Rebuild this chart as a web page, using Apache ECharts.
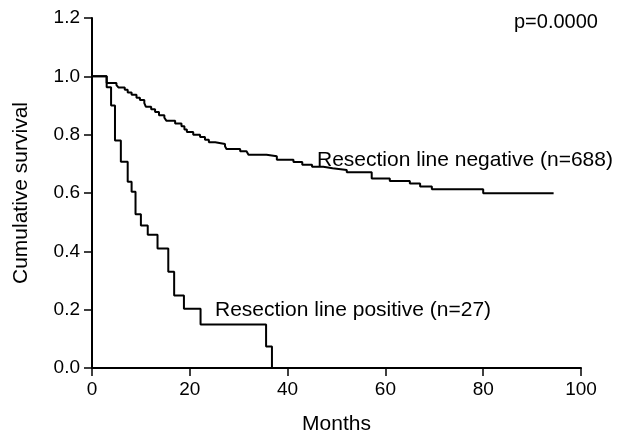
<!DOCTYPE html>
<html>
<head>
<meta charset="utf-8">
<script src="https://cdn.jsdelivr.net/npm/echarts@6/dist/echarts.min.js"></script>
<style>html,body{margin:0;padding:0;background:#fff}#c{width:629px;height:439px}</style>
</head>
<body>
<div id="c"></div>
<script>
// Kaplan-Meier curves: [months, cumulative survival after the step]
var negativeCurve = [
  [0,1.0],[3.0,0.977],[5.0,0.970],[5.4,0.962],[6.7,0.954],[7.3,0.945],[8.1,0.937],[9.1,0.927],
  [9.8,0.919],[10.7,0.908],[11.0,0.896],[12.1,0.887],[12.9,0.878],[13.7,0.867],[14.8,0.858],
  [15.2,0.848],[17.0,0.838],[18.3,0.829],[18.9,0.818],[19.4,0.809],[20.7,0.800],[22.1,0.792],
  [23.1,0.783],[23.9,0.774],[25.2,0.768],[27.2,0.760],[27.5,0.751],[30.3,0.743],[31.6,0.739],
  [32.0,0.731],[35.7,0.726],[37.8,0.714],[41.2,0.706],[43.0,0.697],[45.0,0.690],[47.3,0.685],
  [49.2,0.679],[52.1,0.671],[57.2,0.650],[60.9,0.641],[65.0,0.633],[67.1,0.622],[69.5,0.613],
  [80.0,0.599],[94.4,0.599]
];
var positiveCurve = [
  [0,1.0],[3.0,0.963],[3.9,0.900],[4.7,0.780],[5.9,0.707],[7.3,0.639],[8.1,0.604],[8.9,0.527],
  [10.0,0.489],[11.4,0.457],[13.4,0.410],[15.6,0.330],[16.8,0.249],[18.8,0.203],[22.2,0.149],
  [35.6,0.074],[36.8,0.0]
];
var xTicks = [0, 20, 40, 60, 80, 100];
var yTicks = [0.0, 0.2, 0.4, 0.6, 0.8, 1.0, 1.2];
var negativeLabel = 'Resection line negative (n=688)';
var positiveLabel = 'Resection line positive (n=27)';
var pValueLabel = 'p=0.0000';

var FONT = '"Liberation Sans", Arial, sans-serif';
var chart = echarts.init(document.getElementById('c'), null, {renderer: 'canvas'});
chart.setOption({
  animation: false,
  backgroundColor: '#ffffff',
  grid: {left: 92, right: 48, top: 18, bottom: 71, containLabel: false, outerBoundsMode: 'none'},
  xAxis: {
    type: 'value', min: xTicks[0], max: xTicks[xTicks.length - 1], interval: 20,
    name: 'Months', nameLocation: 'middle', nameGap: 46,
    nameTextStyle: {color: '#000', fontSize: 21, fontFamily: FONT},
    axisLine: {onZero: false, lineStyle: {color: '#000', width: 2}},
    axisTick: {show: true, inside: false, length: 8, lineStyle: {color: '#000', width: 1.5}},
    axisLabel: {color: '#000', fontSize: 19, fontFamily: FONT, margin: 12},
    splitLine: {show: false}
  },
  yAxis: {
    type: 'value', min: yTicks[0], max: yTicks[yTicks.length - 1], interval: 0.2,
    name: 'Cumulative survival', nameLocation: 'middle', nameGap: 60, nameRotate: 90,
    nameTextStyle: {color: '#000', fontSize: 21, fontFamily: FONT},
    axisLine: {show: true, onZero: false, lineStyle: {color: '#000', width: 2}},
    axisTick: {show: true, inside: false, length: 8, lineStyle: {color: '#000', width: 1.5}},
    axisLabel: {color: '#000', fontSize: 19, fontFamily: FONT, margin: 12,
      formatter: function (v) { return v.toFixed(1); }},
    splitLine: {show: false}
  },
  series: [
    {type: 'line', step: 'end', data: negativeCurve, showSymbol: false, symbol: 'none',
     lineStyle: {color: '#000', width: 2}, z: 3},
    {type: 'line', step: 'end', data: positiveCurve, showSymbol: false, symbol: 'none',
     lineStyle: {color: '#000', width: 2}, z: 3}
  ],
  graphic: [
    {type: 'text', left: 317, top: 150, style: {text: negativeLabel, fill: '#000', font: '21px ' + FONT}},
    {type: 'text', left: 215, top: 300, style: {text: positiveLabel, fill: '#000', font: '21px ' + FONT}},
    {type: 'text', left: 514, top: 12, style: {text: pValueLabel, fill: '#000', font: '20px ' + FONT}}
  ]
});
</script>
</body>
</html>
